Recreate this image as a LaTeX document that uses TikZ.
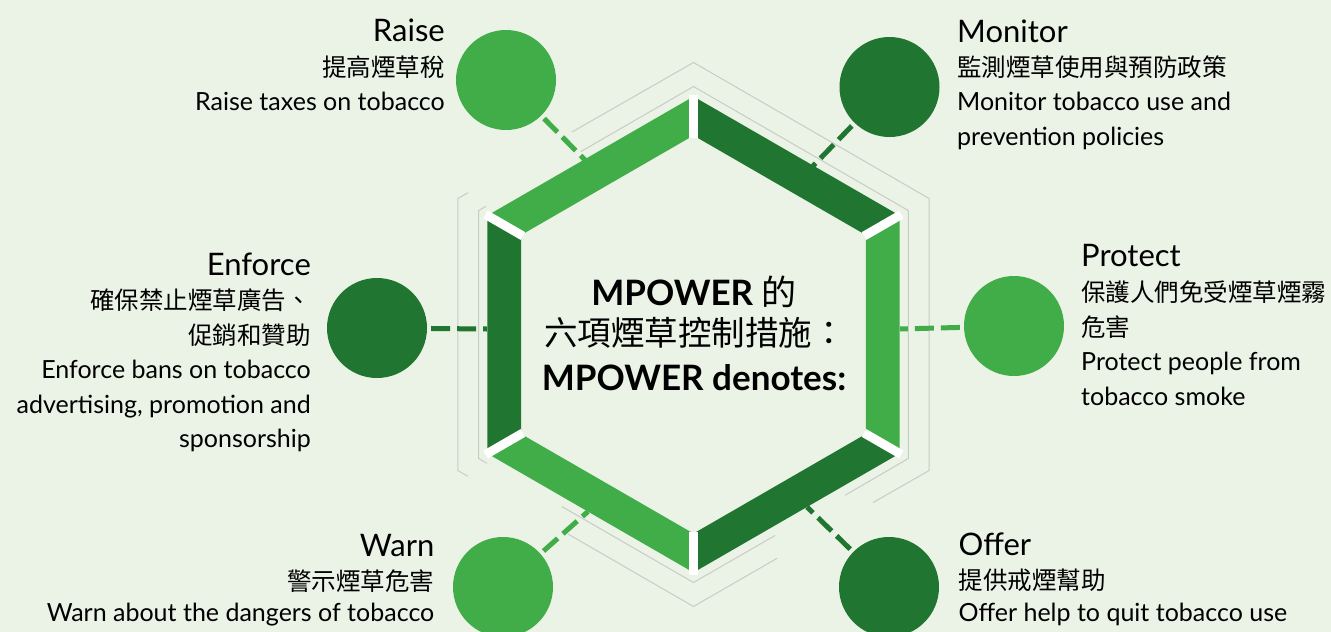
\documentclass[tikz,border=0pt]{standalone}
\usepackage{fontspec}
\setmainfont{Lato}
\newfontfamily\cjk{Noto Sans CJK TC}
\usetikzlibrary{calc}
\definecolor{bgc}{HTML}{EBF2E6}
\definecolor{lightg}{HTML}{41AD49}
\definecolor{darkg}{HTML}{207530}
\definecolor{rimgray}{HTML}{C9CCC6}
\tikzset{
	bubble/.style={circle,minimum size=100pt,inner sep=0},
	link/.style={line width=5pt,dash pattern=on 19pt off 7pt,shorten <=4pt},
	rim/.style={draw=rimgray,line width=1pt},
	title/.style={font=\fontsize{31}{34}\selectfont,inner sep=0},
	body/.style={font=\fontsize{25}{34}\selectfont,inner sep=0},
	cjkbody/.style={font=\cjk\fontsize{24.5}{34}\selectfont,inner sep=0},
	headline/.style={font=\bfseries\fontsize{35}{40}\selectfont,inner sep=0},
	cjkhead/.style={font=\cjk\fontsize{33.5}{40}\selectfont,inner sep=0}
}

\begin{document}
\begin{tikzpicture}[x=1pt,y=-1pt]
		\fill [bgc] (0,0) rectangle (1331,632);
		\useasboundingbox (0,0) rectangle (1331,632);

		% thin rims round the hexagon
		\draw [rim] (572,132) -- (693.5,62.5) -- (929.1,198.5) -- (929.1,470.5) -- (873,502.6);
		\draw [rim] (468,192.7) -- (457.9,198.5) -- (457.9,470.5) -- (468,476.3);
		\draw [rim] (568,534) -- (693.5,606.5) -- (777,558.3);
		\draw [rim] (581,151.5) -- (693.5,86.5) -- (908.3,210.5) -- (908.3,458.5) -- (845,495.3);
		\draw [rim] (486,206.3) -- (478.7,210.5) -- (478.7,458.5) -- (487,463.3);
		\draw [rim] (562,506.6) -- (693.5,582.5) -- (775,535.5);

		\node [bubble, fill = lightg] (raise) at (506, 80) {};
		\node [bubble, fill = darkg] (monitor) at (889.5, 87) {};
		\node [bubble, fill = darkg] (enforce) at (377, 328) {};
		\node [bubble, fill = lightg] (protect) at (1014, 326) {};
		\node [bubble, fill = lightg] (warn) at (503, 587) {};
		\node [bubble, fill = darkg] (offer) at (889, 587) {};

		\coordinate (raisebar) at (585, 160);
		\coordinate (monitorbar) at (813, 166);
		\coordinate (enforcebar) at (487, 329);
		\coordinate (protectbar) at (900, 329);
		\coordinate (warnbar) at (588, 511.5);
		\coordinate (offerbar) at (807, 507);

		\draw [link, lightg] (raise) to (raisebar);
		\draw [link, darkg] (monitor) to (monitorbar);
		\draw [link, darkg] (enforce) to (enforcebar);
		\draw [link, lightg] (protect) to (protectbar);
		\draw [link, lightg] (warn) to (warnbar);
		\draw [link, darkg] (offer) to (offerbar);

		% hexagon of bars
		\begin{scope}[shift={(693.5,334.5)}]
			\foreach \a/\col in {210/lightg,270/darkg,330/lightg,390/darkg,450/lightg,510/darkg}
				\fill [\col] (\a:238) -- (\a+60:238) -- (\a+60:199) -- (\a:199) -- cycle;
			\foreach \a in {30,90,...,330}
				\draw [white, line width=9pt] (\a:197) -- (\a:240);
		\end{scope}

		\node [headline, anchor = base] (head1) at (694, 305.5) {MPOWER {\cjk\mdseries 的}};
		\node [cjkhead, anchor = base] (head2) at (695, 345) {六項煙草控制措施：};
		\node [headline, anchor = base] (head3) at (694, 390) {MPOWER denotes:};

		\node [title, anchor = base east] (raiset) at (445, 41) {Raise};
		\node [cjkbody, anchor = base east] (raisec) at (445, 76.5) {提高煙草稅};
		\node [body, anchor = base east] (raisee) at (445, 110) {Raise taxes on tobacco};

		\node [title, anchor = base west] (monitort) at (957, 42) {Monitor};
		\node [cjkbody, anchor = base west] (monitorc) at (957, 76.5) {監測煙草使用與預防政策};
		\node [body, anchor = base west] (monitore1) at (957, 110) {Monitor tobacco use and};
		\node [body, anchor = base west] (monitore2) at (957, 145.5) {prevention policies};

		\node [title, anchor = base east] (enforcet) at (311, 275) {Enforce};
		\node [cjkbody, anchor = base east] (enforcec1) at (311, 309) {確保禁止煙草廣告、};
		\node [cjkbody, anchor = base east] (enforcec2) at (311, 344) {促銷和贊助};
		\node [body, anchor = base east] (enforcee1) at (311, 378) {Enforce bans on tobacco};
		\node [body, anchor = base east] (enforcee2) at (311, 413) {advertising, promotion and};
		\node [body, anchor = base east] (enforcee3) at (311, 447) {sponsorship};

		\node [title, anchor = base west] (protectt) at (1081, 266.5) {Protect};
		\node [cjkbody, anchor = base west] (protectc1) at (1081, 301) {保護人們免受煙草煙霧};
		\node [cjkbody, anchor = base west] (protectc2) at (1081, 336) {危害};
		\node [body, anchor = base west] (protecte1) at (1081, 370) {Protect people from};
		\node [body, anchor = base west] (protecte2) at (1081, 405.5) {tobacco smoke};

		\node [title, anchor = base east] (warnt) at (434.5, 556) {Warn};
		\node [cjkbody, anchor = base east] (warnc) at (434.5, 590) {警示煙草危害};
		\node [body, anchor = base east] (warne) at (434.5, 621.5) {Warn about the dangers of tobacco};

		\node [title, anchor = base west] (offert) at (958.5, 555) {Offer};
		\node [cjkbody, anchor = base west] (offerc) at (958.5, 589) {提供戒煙幫助};
		\node [body, anchor = base west] (offere) at (958.5, 621.5) {Offer help to quit tobacco use};
\end{tikzpicture}
\end{document}
